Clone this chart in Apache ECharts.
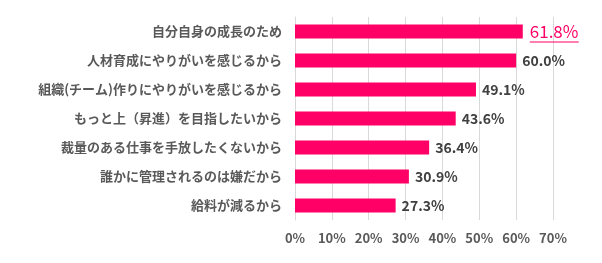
<!DOCTYPE html>
<html><head><meta charset="utf-8">
<script src="https://cdn.jsdelivr.net/npm/echarts@6/dist/echarts.min.js"></script>
<style>html,body{margin:0;padding:0;background:#fff}#c{width:602px;height:263px}</style>
</head><body><div id="c"></div>
<script>
const categories = [
  "自分自身の成長のため",
  "人材育成にやりがいを感じるから",
  "組織(チーム)作りにやりがいを感じるから",
  "もっと上（昇進）を目指したいから",
  "裁量のある仕事を手放したくないから",
  "誰かに管理されるのは嫌だから",
  "給料が減るから"
];
const values = [61.8, 60.0, 49.1, 43.6, 36.4, 30.9, 27.3];
const tickMax = 70;
const tickStep = 10;

const FONT = '"Noto Sans CJK JP", sans-serif';
const chart = echarts.init(document.getElementById('c'), null, {renderer: 'canvas'});
const data = values.map((v, i) => {
  const item = {value: v};
  if (i === 0) {
    item.label = {
      formatter: p => '{a|' + p.value.toFixed(1) + '%}\n{u|}',
      offset: [1, 1],
      rich: {
        a: {color: '#FF0066', fontSize: 17, fontWeight: 'normal', fontFamily: FONT, lineHeight: 19},
        u: {backgroundColor: '#FF0066', height: 1.2, width: 49, lineHeight: 2}
      }
    };
  }
  return item;
});
chart.setOption({
  animation: false,
  grid: {left: 295, right: 49, top: 17, bottom: 43, containLabel: false},
  xAxis: {
    type: 'value', min: 0, max: tickMax, interval: tickStep,
    axisLabel: {formatter: '{value}%', color: '#595959', fontSize: 13, fontFamily: FONT, fontWeight: 'bold', margin: 12},
    splitLine: {show: true, lineStyle: {color: '#d9d9d9', width: 1}},
    axisLine: {show: false}, axisTick: {show: false}
  },
  yAxis: {
    type: 'category', data: categories, inverse: true,
    axisLabel: {color: '#595959', fontSize: 13, fontFamily: FONT, fontWeight: 'bold', margin: 13},
    axisLine: {show: true, lineStyle: {color: '#d9d9d9'}},
    axisTick: {show: false}
  },
  series: [{
    type: 'bar', data: data, barWidth: 14,
    itemStyle: {color: '#FF0066'},
    label: {
      show: true, position: 'right', distance: 6,
      formatter: p => p.value.toFixed(1) + '%',
      color: '#404040', fontSize: 14, fontWeight: 'bold', fontFamily: FONT
    }
  }]
});
</script></body></html>
